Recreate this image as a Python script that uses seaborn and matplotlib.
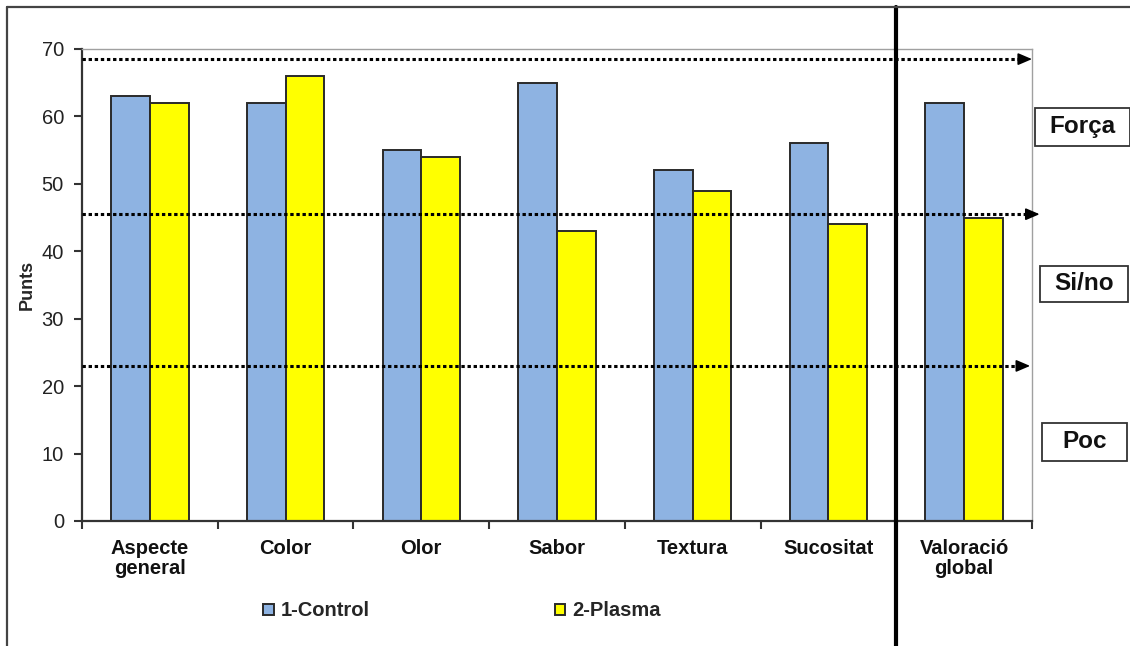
import matplotlib
matplotlib.use("Agg")
import matplotlib.pyplot as plt
import matplotlib.transforms as mtransforms
from matplotlib.patches import Rectangle
from matplotlib.lines import Line2D
import pandas as pd
import seaborn as sns

# Sensory panel scores per attribute
categories = ["Aspecte\ngeneral", "Color", "Olor", "Sabor", "Textura", "Sucositat", "Valoració\nglobal"]
control = [63, 62, 55, 65, 52, 56, 62]
plasma = [62, 66, 54, 43, 49, 44, 45]
series_names = ["1-Control", "2-Plasma"]

# Threshold levels and their zone labels
thresholds = [68.5, 45.5, 23]
zone_labels = ["Força", "Si/no", "Poc"]

y_ticks = [0, 10, 20, 30, 40, 50, 60, 70]

df = pd.DataFrame({
    "categoria": categories * 2,
    "punts": control + plasma,
    "serie": [series_names[0]] * len(categories) + [series_names[1]] * len(categories),
})

sns.set_theme(style="white")
plt.rcParams["font.family"] = ["Liberation Sans", "DejaVu Sans"]

fig = plt.figure(figsize=(11.3, 6.46), dpi=100)
ax = fig.add_axes([82 / 1130, 1 - 521 / 646, 950 / 1130, 472 / 646])

palette = {series_names[0]: "#8EB3E2", series_names[1]: "#FFFF00"}
sns.barplot(data=df, x="categoria", y="punts", hue="serie", palette=palette,
            width=0.57, edgecolor="#2a2a2a", linewidth=1.4, saturation=1,
            ax=ax, legend=True)

ax.set_xlim(-0.5, len(categories) - 0.5)
ax.set_ylim(0, 70)
ax.set_yticks(y_ticks)
ax.set_yticklabels([str(v) for v in y_ticks], fontsize=14.5, color="#222222")
ax.set_xlabel("")
ax.set_ylabel("Punts", fontsize=13, fontweight="bold")
ax.yaxis.set_label_coords((36 - 82) / 950, (521 - 285) / 472)

# category labels below the axis, ticks at group boundaries
ax.set_xticks(range(len(categories)))
ax.set_xticklabels(categories, fontsize=14.5, fontweight="bold", color="#111111",
                   linespacing=1.05, va="top")
ax.tick_params(axis="x", which="major", length=0, pad=13)
ax.set_xticks([i - 0.5 for i in range(len(categories) + 1)], minor=True)
ax.tick_params(axis="x", which="minor", bottom=True, length=6, width=1.5,
               color="#333333", direction="out")
ax.tick_params(axis="y", left=True, length=6, width=1.5, color="#333333",
               direction="out", pad=7)

for side in ["left", "bottom"]:
    ax.spines[side].set_color("#333333")
    ax.spines[side].set_linewidth(1.6)
for side in ["top", "right"]:
    ax.spines[side].set_color("#a0a0a0")
    ax.spines[side].set_linewidth(1.0)

# dotted threshold lines ending in arrowheads
ends = [1.0, 1.008, 0.998]
ytrans = ax.get_yaxis_transform()
for yv, xe in zip(thresholds, ends):
    ax.plot([0, xe - 0.012], [yv, yv], transform=ytrans, color="black",
            linestyle=(0, (1.1, 0.9)), linewidth=2.2, clip_on=False, zorder=5)
    ax.annotate("", xy=(xe, yv), xytext=(xe - 0.013, yv), xycoords=ytrans,
                textcoords=ytrans,
                arrowprops=dict(arrowstyle="-|>,head_length=0.7,head_width=0.3",
                                color="black", lw=1.2, shrinkA=0, shrinkB=0),
                annotation_clip=False, zorder=6)

# zone label boxes to the right of the plot
boxes = [(1035, 108, 1130, 146), (1040, 266, 1128, 302), (1042, 423, 1127, 461)]
for (x0, y0, x1, y1), lab in zip(boxes, zone_labels):
    fig.patches.append(Rectangle((x0 / 1130, 1 - y1 / 646), (x1 - x0) / 1130, (y1 - y0) / 646,
                                 transform=fig.transFigure, facecolor="white",
                                 edgecolor="#333333", linewidth=1.3))
    fig.text((x0 + x1) / 2 / 1130, 1 - (y0 + y1) / 2 / 646, lab, ha="center", va="center",
             fontsize=17.5, fontweight="bold", color="#111111")

# heavy divider separating the overall score from the attributes
blend = mtransforms.blended_transform_factory(ax.transData, fig.transFigure)
fig.lines.append(Line2D([5.5, 5.5], [0, 1 - 7 / 646], transform=blend,
                        color="black", linewidth=3.0))

# outer frame edges
fig.lines.append(Line2D([7 / 1130, 7 / 1130], [0, 1 - 7 / 646], transform=fig.transFigure,
                        color="#444444", linewidth=1.6))
fig.lines.append(Line2D([7 / 1130, 1], [1 - 7 / 646, 1 - 7 / 646], transform=fig.transFigure,
                        color="#444444", linewidth=1.6))

# legend below the chart
handles, labels = ax.get_legend_handles_labels()
ax.get_legend().remove()
fig.legend(handles, labels, loc="center", bbox_to_anchor=(462 / 1130, 1 - 611 / 646),
           ncol=2, frameon=False, prop={"size": 14.5, "weight": "bold"},
           handlelength=0.5, handleheight=0.5, handletextpad=0.35, columnspacing=9.2)

fig.savefig("out.png", dpi=100)
